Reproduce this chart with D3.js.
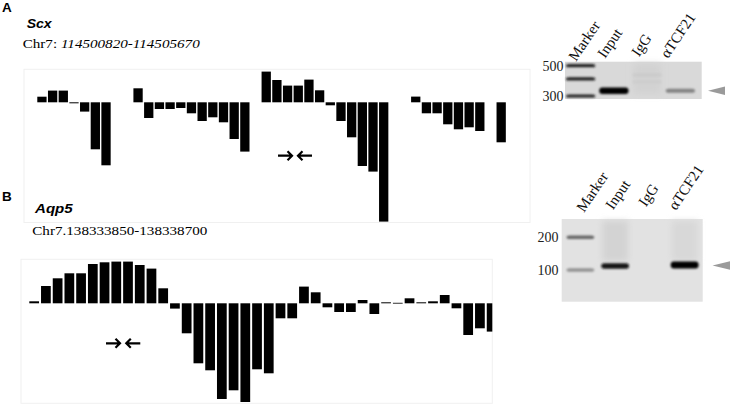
<!DOCTYPE html>
<html><head><meta charset="utf-8">
<script src="https://cdn.jsdelivr.net/npm/d3@7"></script>
<style>body{margin:0;background:#fff}svg{display:block}</style>
</head><body><script>
// ---------- data ----------
const binsA = d3.range(1, 45);
const valuesA = [0.56,1.17,1.17,-0.1,-0.93,-4.7,-6.3,null,null,1.4,
  -1.57,-0.67,-0.67,-0.57,-1.1,-1.87,-1.5,-2.0,-3.67,-4.93,
  null,3.07,2.23,1.67,1.67,2.27,1.2,-0.3,-1.87,-3.5,
  -6.37,-6.93,-11.93,null,null,0.57,-1.1,-1.1,-2.2,-2.7,
  -2.5,-2.87,null,-4.0];
const binsB = d3.range(1, 41);
const valuesB = [0.2,1.73,2.5,3.0,3.0,3.93,4.1,4.17,4.17,3.83,
  3.47,1.5,-0.53,-3.0,-6.0,-6.7,-9.57,-8.7,-9.87,-6.6,
  -7.0,-1.5,-1.5,1.67,1.1,-0.4,-0.87,-0.87,0.33,-1.07,
  0.1,0.05,0.5,0.1,0.2,0.83,-0.5,-3.17,-2.5,-2.83];
const primersA = [{pos: 23.76, dir: 1}, {pos: 25.63, dir: -1}];
const primersB = [{pos: 7.72, dir: 1}, {pos: 9.45, dir: -1}];
const laneLabels = ["Marker", "Input", "IgG", "αTCF21"];
const ladderA = [500, 300];
const ladderB = [200, 100];
const gelBandsA = [
  {lane: "Marker", size: 500, intensity: 0.85},
  {lane: "Marker", size: 400, intensity: 0.85},
  {lane: "Marker", size: 300, intensity: 0.85},
  {lane: "Input", size: 328, intensity: 1.0},
  {lane: "IgG", size: 428, intensity: 0.06},
  {lane: "IgG", size: 382, intensity: 0.05},
  {lane: "αTCF21", size: 328, intensity: 0.4}
];
const gelBandsB = [
  {lane: "Marker", size: 200, intensity: 0.55},
  {lane: "Marker", size: 100, intensity: 0.35},
  {lane: "Input", size: 109, intensity: 0.9},
  {lane: "αTCF21", size: 111, intensity: 1.0}
];

// ---------- svg ----------
const svg = d3.select("body").append("svg").attr("width", 730).attr("height", 404);
const defs = svg.append("defs");
defs.append("filter").attr("id", "blur").attr("x", "-50%").attr("y", "-200%").attr("width", "200%").attr("height", "500%")
  .append("feGaussianBlur").attr("stdDeviation", 1.1);
defs.append("filter").attr("id", "blur2").attr("x", "-50%").attr("y", "-50%").attr("width", "200%").attr("height", "200%")
  .append("feGaussianBlur").attr("stdDeviation", 3);
defs.append("clipPath").attr("id", "clipB").append("rect")
  .attr("x", 21).attr("y", 259.3).attr("width", 471.3).attr("height", 145);

const sans = "'Liberation Sans', Arial, sans-serif";
const serif = "'Liberation Serif', 'Times New Roman', serif";

// ---------- panel texts ----------
svg.append("text").attr("x", 2).attr("y", 12).attr("font-family", sans).attr("font-weight", "bold")
  .attr("font-size", 13.5).text("A");
svg.append("text").attr("x", 26.7).attr("y", 28.3).attr("font-family", sans).attr("font-weight", "bold")
  .attr("font-style", "italic").attr("font-size", 13).attr("textLength", 25).attr("lengthAdjust", "spacingAndGlyphs").text("Scx");
const tA = svg.append("text").attr("x", 22.7).attr("y", 48.3).attr("font-family", serif).attr("font-size", 13.5)
  .attr("textLength", 177).attr("lengthAdjust", "spacingAndGlyphs");
tA.append("tspan").text("Chr7: ");
tA.append("tspan").attr("font-style", "italic").text("114500820-114505670");

svg.append("text").attr("x", 2).attr("y", 200.5).attr("font-family", sans).attr("font-weight", "bold")
  .attr("font-size", 13.5).text("B");
svg.append("text").attr("x", 35).attr("y", 213).attr("font-family", sans).attr("font-weight", "bold")
  .attr("font-style", "italic").attr("font-size", 13).attr("textLength", 37.7).attr("lengthAdjust", "spacingAndGlyphs").text("Aqp5");
svg.append("text").attr("x", 32.3).attr("y", 235).attr("font-family", serif).attr("font-size", 13.5)
  .attr("textLength", 175).attr("lengthAdjust", "spacingAndGlyphs").text("Chr7.138333850-138338700");

// ---------- bar charts ----------
function barChart(opt) {
  const g = svg.append("g");
  g.append("rect").attr("x", opt.frame[0]).attr("y", opt.frame[1])
    .attr("width", opt.frame[2] - opt.frame[0]).attr("height", opt.frame[3] - opt.frame[1])
    .attr("fill", "none").attr("stroke", "#f0f0f0").attr("stroke-width", 1);
  const x = d3.scaleBand().domain(opt.bins).range(opt.xr).paddingInner(opt.pad).paddingOuter(opt.pad / 2);
  const y = d3.scaleLinear().domain(opt.yd).range(opt.yr);
  const data = opt.bins.map((b, i) => ({b, v: opt.values[i]})).filter(d => d.v !== null);
  const bg = g.append("g");
  if (opt.clip) bg.attr("clip-path", "url(#" + opt.clip + ")");
  bg.selectAll("rect").data(data).join("rect")
    .attr("x", d => x(d.b)).attr("width", x.bandwidth())
    .attr("y", d => y(Math.max(0, d.v)))
    .attr("height", d => Math.max(0.8, Math.abs(y(d.v) - y(0))))
    .attr("fill", "#000");
  const xl = d3.scaleLinear().domain([1, opt.bins.length])
    .range([x(1) + x.bandwidth() / 2, x(opt.bins.length) + x.bandwidth() / 2]);
  const ay = opt.arrowY;
  opt.primers.forEach(p => {
    const cx = xl(p.pos), L = 7;
    const tip = cx + p.dir * L, tail = cx - p.dir * L;
    const h = 4.5;
    g.append("path")
      .attr("d", `M${tail},${ay}L${tip},${ay}M${tip - p.dir * h},${ay - h}L${tip},${ay}L${tip - p.dir * h},${ay + h}`)
      .attr("fill", "none").attr("stroke", "#000").attr("stroke-width", 2.2);
  });
}
barChart({bins: binsA, values: valuesA, frame: [24, 69.3, 530, 222.5],
  xr: [36.6, 36.6 + 44 * 10.68], pad: 0.13, yd: [0, -10], yr: [102.3, 202.3],
  primers: primersA, arrowY: 155.7});
barChart({bins: binsB, values: valuesB, frame: [21, 259.3, 492.3, 403.3],
  xr: [28.3, 28.3 + 40 * 11.73], pad: 0.17, yd: [0, -10], yr: [303.3, 403.3],
  primers: primersB, arrowY: 343.3, clip: "clipB"});

// ---------- gels ----------
function gel(opt) {
  const g = svg.append("g");
  const lx = d3.scaleBand().domain(laneLabels).range(opt.lr).paddingInner(opt.pad).paddingOuter(opt.pad / 2);
  const sy = d3.scaleLog().domain(opt.sd).range(opt.sr);
  g.append("rect").attr("x", opt.box[0]).attr("y", opt.box[1]).attr("width", opt.box[2] - opt.box[0])
    .attr("height", opt.box[3] - opt.box[1]).attr("fill", opt.bg);
  (opt.smears || []).forEach(s => {
    g.append("rect").attr("x", lx(s.lane) + 1).attr("width", lx.bandwidth() - 2)
      .attr("y", opt.box[1] + 2).attr("height", s.h).attr("fill", s.c).attr("filter", "url(#blur2)");
  });
  g.selectAll(".band").data(opt.bands).join("rect").attr("class", "band")
    .attr("x", d => lx(d.lane)).attr("width", lx.bandwidth())
    .attr("y", d => sy(d.size) - opt.bh(d) / 2).attr("height", d => opt.bh(d))
    .attr("rx", 3)
    .attr("fill", d => d3.interpolateRgb(opt.bg, "#000")(d.intensity))
    .attr("filter", "url(#blur)");
  g.selectAll(".lad").data(opt.ladder).join("text").attr("class", "lad")
    .attr("x", opt.ladX).attr("y", d => sy(d) + 4.8).attr("text-anchor", "end")
    .attr("font-family", serif).attr("font-size", 14).attr("fill", "#222").text(d => d);
  g.selectAll(".ll").data(laneLabels).join("text").attr("class", "ll")
    .attr("transform", (d, i) => `translate(${opt.labPos[i][0]},${opt.labPos[i][1]}) rotate(-56)`)
    .attr("font-family", serif).attr("font-size", 15).attr("fill", "#111").text(d => d);
  const ay = sy(opt.arrowSize);
  g.append("path").attr("d", `M${opt.arrowX[0]},${ay}L${opt.arrowX[1]},${ay - 4.3}L${opt.arrowX[1]},${ay + 4.3}Z`)
    .attr("fill", "#9a9a9a");
}
gel({lr: [564, 697], pad: 0.12, sd: [300, 500], sr: [96, 65.7], box: [565, 61.7, 701.7, 99],
  bg: "#d9d9d9", bands: gelBandsA, ladder: ladderA, ladX: 563.5,
  bh: d => d.lane === "Input" ? 6.5 : (d.lane === "Marker" ? 3.2 : 4),
  labPos: [[576, 62], [605, 59], [639, 57.5], [668, 59]],
  arrowSize: 328, arrowX: [708, 725],
  smears: [{lane: "IgG", h: 30, c: "#d2d2d2"}]});
gel({lr: [563, 702], pad: 0.2, sd: [100, 200], sr: [270, 237.3], box: [561.7, 219, 702.7, 301.7],
  bg: "#e2e2e2", bands: gelBandsB, ladder: ladderB, ladX: 558.5,
  bh: d => d.lane === "Marker" ? 3.5 : (d.lane === "Input" ? 5.5 : 7),
  labPos: [[584, 213], [613, 210.5], [646, 207.5], [676, 211]],
  arrowSize: 110, arrowX: [712.5, 730],
  smears: [{lane: "Input", h: 40, c: "#d3d3d3"}, {lane: "αTCF21", h: 40, c: "#d8d8d8"}]});
</script></body></html>
